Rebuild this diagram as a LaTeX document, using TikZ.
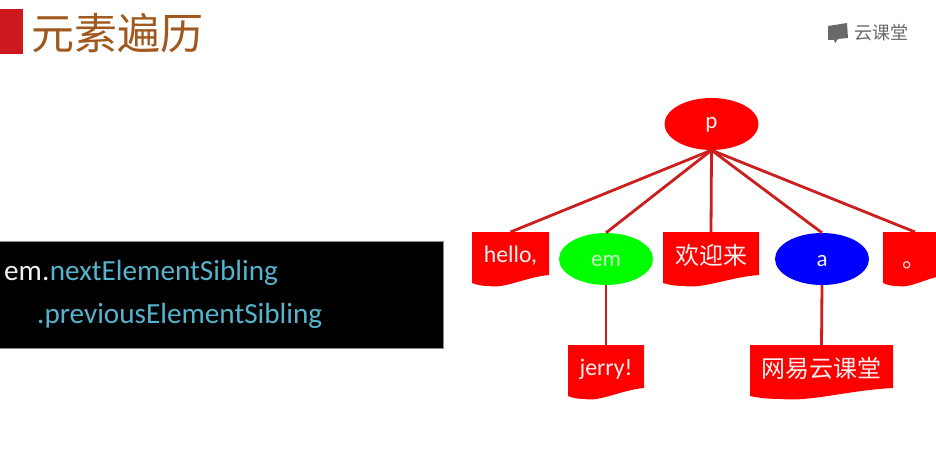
\documentclass[tikz,border=0pt]{standalone}
\usepackage{fontspec}
\usetikzlibrary{shapes.geometric}
\setmainfont{Carlito}
\newfontfamily\cjk{Noto Sans CJK SC}
\definecolor{edgered}{RGB}{205,30,30}
\definecolor{brandred}{RGB}{205,25,30}
\definecolor{titlebrown}{RGB}{160,88,30}
\definecolor{codeblue}{RGB}{85,180,205}
\definecolor{logogray}{RGB}{105,105,105}
\definecolor{softwhite}{RGB}{245,240,240}
\tikzset{
  x=1pt,y=-1pt,
  edge/.style={draw=edgered,line width=2.8pt},
  bubble/.style={ellipse,inner sep=0pt,minimum width=94pt,minimum height=52pt},
  bubbletext/.style={inner sep=0pt,text=softwhite,font=\fontsize{23}{26}\selectfont},
  docanchor/.style={rectangle,inner sep=0pt,outer sep=0pt},
  doctext/.style={text=softwhite,inner sep=0pt},
  latin/.style={font=\fontsize{23.8}{28}\selectfont,yshift=-2pt},
  han/.style={font=\cjk\fontsize{24}{28}\selectfont,yshift=-1pt},
  code/.style={inner sep=0pt,anchor=base west,font=\fontsize{29.2}{34}\selectfont},
}
% name, left, top, right, straight-height, style, text
\newcommand{\docbox}[7]{%
  \fill[red] (#2,#3) -- (#4,#3) -- (#4,#3+#5-9)
    .. controls (#4-0.30*#4+0.30*#2,#3+#5-7) and (#4-0.58*#4+0.58*#2,#3+#5+5) .. (#2+0.22*#4-0.22*#2,#3+#5+2)
    .. controls (#2+0.14*#4-0.14*#2,#3+#5+2) and (#2+0.06*#4-0.06*#2,#3+#5+1) .. (#2,#3+#5-1) -- cycle;
  \node[docanchor,minimum width=#4pt-#2pt,minimum height=#5pt] (#1) at ({(#2+#4)/2},{#3+#5/2}) {};
  \node[doctext,#6] (#1-label) at ({(#2+#4)/2},{#3+22}) {#7};
}
\begin{document}
\begin{tikzpicture}
\useasboundingbox (0,0) rectangle (936,457);
\fill[white] (0,0) rectangle (936,457);
% title bar
\node[fill=brandred,inner sep=0pt,minimum width=23pt,minimum height=45pt] (mark) at (11.5,31.5) {};
\node[text=titlebrown,inner sep=0pt,font=\cjk\fontsize{43}{48}\selectfont] (title) at (117,33) {元素遍历};
% logo
\fill[logogray] (828,26) -- (847,23) -- (848,38) -- (838,39) -- (835,43) -- (834,40) -- (828,40) -- cycle;
\node[text=logogray,inner sep=0pt,font=\cjk\fontsize{18}{20}\selectfont] (logo) at (881.5,33) {云课堂};
% code panel
\node[fill=black,draw=black!45,line width=0.6pt,inner sep=0pt,minimum width=444pt,minimum height=107pt] (panel) at (221,294.5) {};
\node[code,text=softwhite] (line1a) at (4,280) {em.};
\node[code,text=codeblue] (line1b) at (line1a.base east) {nextElementSibling};
\node[code,text=codeblue] (line2) at (37,323) {.previousElementSibling};
% tree nodes
\node[bubble,fill=red] (p) at (711.5,124) {};
\node[bubbletext] (p-label) at (711.5,125) {p};
\node[bubble,fill=green] (em) at (606,259) {};
\node[bubbletext,text=green!20!white] (em-label) at (606,261) {em};
\node[bubble,fill=blue] (a) at (822,259) {};
\node[bubbletext] (a-label) at (822,261) {a};
\docbox{hello}{472}{232}{549}{52}{latin}{hello,}
\docbox{welcome}{663}{232}{759}{52}{han}{欢迎来}
\docbox{period}{883}{232}{947}{52}{han,yshift=-10pt,xshift=-1pt}{。}
\docbox{jerry}{568}{345}{644}{52}{latin}{jerry!}
\docbox{netease}{750}{345}{893}{52}{han}{网易云课堂}
% connectors
\draw[edge] (p.south) -- (hello.north);
\draw[edge] (p.south) -- (em.north);
\draw[edge] (p.south) -- (welcome.north);
\draw[edge] (p.south) -- (a.north);
\draw[edge] (p.south) -- (period.north);
\draw[edge] (em.south) -- (jerry.north);
\draw[edge] (a.south) -- (netease.north);
\end{tikzpicture}
\end{document}
